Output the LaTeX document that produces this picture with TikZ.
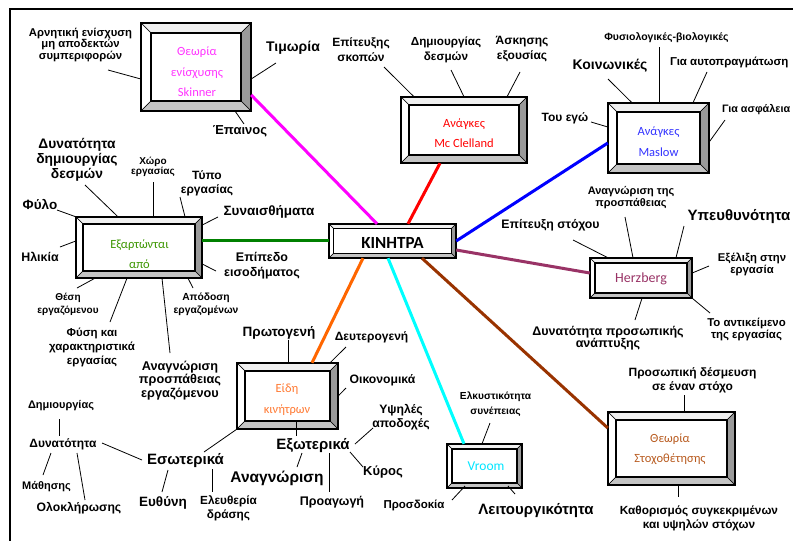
\documentclass[tikz,border=0pt]{standalone}
\usepackage{fontspec}
\setmainfont{Liberation Sans}
\newfontfamily\calfont{Carlito}
\usetikzlibrary{calc}
\definecolor{bevtop}{HTML}{F0F0F0}
\definecolor{bevright}{HTML}{9A9A9A}
\definecolor{bevbot}{HTML}{C4C4C4}
\definecolor{cmag}{HTML}{FF00FF}
\definecolor{tmag}{HTML}{FF33FF}
\definecolor{cred}{HTML}{FF0000}
\definecolor{cblue}{HTML}{0000FF}
\definecolor{tblue}{HTML}{3333FF}
\definecolor{cgreen}{HTML}{008000}
\definecolor{tgreen}{HTML}{3C9600}
\definecolor{corange}{HTML}{FF6600}
\definecolor{torange}{HTML}{FF7A33}
\definecolor{cpurple}{HTML}{993366}
\definecolor{ccyan}{HTML}{00FFFF}
\definecolor{tcyan}{HTML}{00E6FF}
\definecolor{cbrown}{HTML}{993300}
\definecolor{tbrown}{HTML}{B85A1E}
\newcommand\fs[2]{\fontsize{#1}{#2}\selectfont}
% name, x1, y1, x2, y2, bevel
\newcommand\bevbox[6]{%
  \fill[white] (#2,#3) rectangle (#4,#5);
  \filldraw[fill=bevtop, draw=black, line width=.6] (#2,#3) -- (#4,#3) -- ({#4-#6},{#3+#6}) -- ({#2+#6},{#3+#6}) -- cycle;
  \filldraw[fill=white, draw=black, line width=.6] (#2,#3) -- ({#2+#6},{#3+#6}) -- ({#2+#6},{#5-#6}) -- (#2,#5) -- cycle;
  \filldraw[fill=bevright, draw=black, line width=.6] (#4,#3) -- (#4,#5) -- ({#4-#6},{#5-#6}) -- ({#4-#6},{#3+#6}) -- cycle;
  \filldraw[fill=bevbot, draw=black, line width=.6] (#2,#5) -- (#4,#5) -- ({#4-#6},{#5-#6}) -- ({#2+#6},{#5-#6}) -- cycle;
  \draw[line width=1.3] ({#2+#6},{#3+#6}) rectangle ({#4-#6},{#5-#6});
  \draw[line width=1.5] (#2,#3) rectangle (#4,#5);
  \node[draw=none, inner sep=0, minimum width={#4-#2}, minimum height={#5-#3}] (#1) at ({(#2+#4)/2},{(#3+#5)/2}) {};
}
\tikzset{
  lb/.style={align=center, inner sep=0pt, font=\bfseries\fs{10.5}{12}},
  lk/.style={draw=black, line width=0.8},
  conn/.style={line width=3},
  boxtext/.style={align=center, inner sep=0pt, font=\calfont\fs{12.5}{20.5}}
}
\begin{document}
\begin{tikzpicture}[x=1pt,y=-1pt]
\useasboundingbox (0,0) rectangle (793,541);
\clip (0,0) rectangle (793,541);
\fill[white] (0,0) rectangle (793,541);
\draw[line width=2] (10,9) rectangle (900,700);

% ---------- boxes ----------
\bevbox{sk}{141}{23}{251}{111}{10}
\bevbox{mc}{401}{97}{527}{163}{8}
\bevbox{mas}{608}{103}{709}{173}{9}
\bevbox{kin}{329}{224}{456}{258}{4.5}
\bevbox{dep}{76}{217}{202}{278}{7}
\bevbox{eid}{237}{363}{338}{429}{8}
\bevbox{her}{590}{258}{692}{298}{5}
\bevbox{vr}{447}{444}{522}{488}{5}
\bevbox{sto}{608}{412}{735}{485}{8}

% ---------- colored connectors ----------
\draw[conn, cmag] (sk.east |- 0,95) -- (kin.north -| 377,0);
\draw[conn, cred] (mc.south -| 440,0) -- (kin.north -| 408,0);
\draw[conn, cblue] (mas.west |- 0,143) -- (kin.east |- 0,241);
\draw[conn, cpurple] (kin.east |- 0,250) -- (her.west |- 0,273);
\draw[conn, cgreen] (dep.east |- 0,240) -- (kin.west |- 0,240);
\draw[conn, corange] (kin.south -| 363,0) -- (eid.north -| 312,0);
\draw[conn, ccyan] (kin.south -| 388,0) -- (vr.north -| 464,0);
\draw[conn, cbrown] (kin.south -| 422,0) -- (sto.west |- 0,428);

% ---------- box texts ----------
\node[boxtext, text=tmag] (skt) at (197,72) {Θεωρία\\ενίσχυσης\\Skinner};
\node[boxtext, text=cred] (mct) at (464,133) {Ανάγκες\\Mc Clelland};
\node[boxtext, text=tblue] (mast) at (658.5,141.5) {Ανάγκες\\Maslow};
\node[inner sep=0, font=\calfont\bfseries\fs{17}{20}] (kint) at (392.5,243) {ΚΙΝΗΤΡΑ};
\node[boxtext, text=tgreen] (dept) at (139.5,254) {Εξαρτώνται\\από};
\node[boxtext, text=torange] (eidt) at (287,399.5) {Είδη\\κινήτρων};
\node[boxtext, text=cpurple, font=\calfont\fs{14}{20}] (hert) at (641,279) {Herzberg};
\node[boxtext, text=tcyan, font=\calfont\fs{13.5}{20}] (vrt) at (486,466) {Vroom};
\node[boxtext, text=tbrown] (stot) at (670,449) {Θεωρία\\Στοχοθέτησης};

% ---------- Skinner labels ----------
\node[lb, font=\bfseries\fs{11.3}{11.6}] (neg) at (80.5,45) {Αρνητική ενίσχυση\\μη αποδεκτών\\συμπεριφορών};
\node[lb, font=\bfseries\fs{14}{16}] (tim) at (293,48) {Τιμωρία};
\node[lb, font=\bfseries\fs{13}{14}] (epa) at (240,131) {Έπαινος};
\draw[lk] (108,70) -- (sk.west |- 0,79);
\draw[lk] (sk.east |- 0,79) -- (276,63);
\draw[lk] (235,111) -- (244,124);

% ---------- Mc Clelland labels ----------
\node[lb, font=\bfseries\fs{12}{15}] (eps) at (361,49.5) {Επίτευξης\\σκοπών};
\node[lb, font=\bfseries\fs{11.7}{15}] (dhd) at (446,49.5) {Δημιουργίας\\δεσμών};
\node[lb, font=\bfseries\fs{12}{15}] (ask) at (522,49.5) {Άσκησης\\εξουσίας};
\draw[lk] (384,67) -- (mc.north -| 414,0);
\draw[lk] (451,70) -- (mc.north -| 464,0);
\draw[lk] (520,72) -- (mc.north -| 507,0);

% ---------- Maslow labels ----------
\node[lb, font=\bfseries\fs{10.5}{12}] (fys) at (666.5,38) {Φυσιολογικές-βιολογικές};
\node[lb, font=\bfseries\fs{14}{16}] (koi) at (610,66) {Κοινωνικές};
\node[lb, font=\bfseries\fs{11.5}{14}, anchor=west] (aut) at (670,62) {Για αυτοπραγμάτωση};
\node[lb, font=\bfseries\fs{10.8}{14}, anchor=west] (asf) at (722,110) {Για ασφάλεια};
\node[lb, font=\bfseries\fs{12}{14}] (ego) at (565,118) {Του εγώ};
\draw[lk] (659,47) -- (mas.north -| 659,0);
\draw[lk] (608,79) -- (mas.north -| 632,0);
\draw[lk] (707,72) -- (mas.north -| 693,0);
\draw[lk] (725,120) -- (mas.east |- 0,142);
\draw[lk] (591,122) -- (mas.west |- 0,127);

% ---------- Εξαρτώνται labels ----------
\node[lb, font=\bfseries\fs{13.8}{15}] (ddd) at (77,160) {Δυνατότητα\\δημιουργίας\\δεσμών};
\node[lb, font=\bfseries\fs{10}{10.5}] (xor) at (153,167) {Χώρο\\εργασίας};
\node[lb, font=\bfseries\fs{12}{13.5}] (typ) at (207,183.5) {Τύπο\\εργασίας};
\node[lb, font=\bfseries\fs{13.5}{14}] (fyl) at (40,204) {Φύλο};
\node[lb, font=\bfseries\fs{12.4}{13}] (hli) at (40,257) {Ηλικία};
\node[lb, font=\bfseries\fs{13.5}{14}] (syn) at (269,212) {Συναισθήματα};
\node[lb, font=\bfseries\fs{12.5}{14.5}] (epi) at (262,265.5) {Επίπεδο\\εισοδήματος};
\node[lb, font=\bfseries\fs{10}{12.5}] (the) at (68,304.5) {Θέση\\εργαζόμενου};
\node[lb, font=\bfseries\fs{11.5}{14}] (fyx) at (92,347) {Φύση και\\χαρακτηριστικά\\εργασίας};
\node[lb, font=\bfseries\fs{12.7}{13.8}] (ana) at (180,380.5) {Αναγνώριση\\προσπάθειας\\εργαζόμενου};
\node[lb, font=\bfseries\fs{10.3}{12.5}] (apo) at (206,304.5) {Απόδοση\\εργαζομένων};
\draw[lk] (85,185) -- (dep.north -| 118,0);
\draw[lk] (153,182) -- (dep.north -| 153,0);
\draw[lk] (180,197) -- (dep.north -| 185,0);
\draw[lk] (57,210) -- (dep.north west);
\draw[lk] (60,247) -- (dep.west |- 0,241);
\draw[lk] (218,217) -- (dep.east |- 0,225);
\draw[lk] (216,271) -- (dep.east |- 0,264);
\draw[lk] (77,288) -- (dep.south -| 95,0);
\draw[lk] (110,322) -- (dep.south -| 127,0);
\draw[lk] (170,353) -- (dep.south -| 162,0);
\draw[lk] (193,288) -- (dep.south -| 188,0);

% ---------- Είδη κινήτρων labels ----------
\node[lb, font=\bfseries\fs{13.5}{15}] (prw) at (279,333) {Πρωτογενή};
\node[lb, font=\bfseries\fs{12}{13}] (deu) at (371.5,337) {Δευτερογενή};
\node[lb, font=\bfseries\fs{12.2}{13}] (oik) at (382.5,380) {Οικονομικά};
\node[lb, font=\bfseries\fs{15}{17}] (exw) at (313,446) {Εξωτερικά};
\node[lb, font=\bfseries\fs{12.2}{14}] (yps) at (401,417) {Υψηλές\\αποδοχές};
\node[lb, font=\bfseries\fs{13}{14}] (kyr) at (383,472) {Κύρος};
\node[lb, font=\bfseries\fs{15.5}{17}] (ana2) at (277,478) {Αναγνώριση};
\node[lb, font=\bfseries\fs{12.5}{13}] (pro) at (332,502) {Προαγωγή};
\node[lb, font=\bfseries\fs{15}{17}] (esw) at (185.5,461) {Εσωτερικά};
\node[lb, font=\bfseries\fs{12}{13}] (dyn) at (63,444) {Δυνατότητα};
\node[lb, font=\bfseries\fs{11}{12}] (dhm) at (61,406) {Δημιουργίας};
\node[lb, font=\bfseries\fs{11}{12}] (mat) at (46.5,487) {Μάθησης};
\node[lb, font=\bfseries\fs{12.2}{13}] (olo) at (79,508) {Ολοκλήρωσης};
\node[lb, font=\bfseries\fs{13.5}{14}] (eyt) at (163,503) {Ευθύνη};
\node[lb, font=\bfseries\fs{11.8}{14}] (ele) at (228.5,508) {Ελευθερία\\δράσης};
\draw[lk] (prw.south -| 288,0) -- (eid.north -| 288,0);
\draw[lk] (346,347) -- (eid.north -| 330,0);
\draw[lk] (346,388) -- (eid.east |- 0,396);
\draw[lk] (296,420) -- (296,436);
\draw[lk] (373,428) -- (355,444);
\draw[lk] (363,467) -- (350,452);
\draw[lk] (297,467) -- (302,453);
\draw[lk] (329,453) -- (329,492);
\draw[lk] (204,452) -- (eid.south west);
\draw[lk] (102,443) -- (142,460);
\draw[lk] (59,419) -- (59,436);
\draw[lk] (51,453) -- (43,475);
\draw[lk] (77,453) -- (85,500);
\draw[lk] (168,470) -- (162,492);
\draw[lk] (212,469) -- (212,492);

% ---------- Vroom labels ----------
\node[lb, font=\bfseries\fs{10.2}{15}] (elk) at (495.5,404.5) {Ελκυστικότητα\\συνέπειας};
\node[lb, font=\bfseries\fs{11.5}{13}] (pros) at (414,505) {Προσδοκία};
\node[lb, font=\bfseries\fs{15}{17}] (lei) at (536,511) {Λειτουργικότητα};
\draw[lk] (490,423) -- (vr.north -| 482,0);
\draw[lk] (465,486) -- (452,500);
\draw[lk] (508,486) -- (515,494);

% ---------- Στοχοθέτηση labels ----------
\node[lb, font=\bfseries\fs{12}{14}] (pds) at (692.5,380) {Προσωπική δέσμευση\\σε έναν στόχο};
\node[lb, font=\bfseries\fs{11.8}{13.5}] (kas) at (699,518.5) {Καθορισμός συγκεκριμένων\\και υψηλών στόχων};
\draw[lk] (684,395) -- (sto.north -| 684,0);
\draw[lk] (sto.south -| 678,0) -- (678,497);

% ---------- Herzberg labels ----------
\node[lb, font=\bfseries\fs{11}{11.5}] (anp) at (631,197.5) {Αναγνώριση της\\προσπάθειας};
\node[lb, font=\bfseries\fs{15}{16}] (ype) at (739,217) {Υπευθυνότητα};
\node[lb, font=\bfseries\fs{12.3}{13}] (ept) at (550.5,225) {Επίτευξη στόχου};
\node[lb, font=\bfseries\fs{11.3}{12}] (exe) at (752,264) {Εξέλιξη στην\\εργασία};
\node[lb, font=\bfseries\fs{11.4}{12}] (ant) at (746.5,329) {Το αντικείμενο\\της εργασίας};
\node[lb, font=\bfseries\fs{12.5}{12.5}] (dpa) at (608,338) {Δυνατότητα προσωπικής\\ανάπτυξης};
\draw[lk] (625,217) -- (her.north -| 633,0);
\draw[lk] (684,226) -- (her.north -| 676,0);
\draw[lk] (573,240) -- (her.north -| 608,0);
\draw[lk] (709,266) -- (her.east |- 0,273);
\draw[lk] (710,313) -- (her.south east);
\draw[lk] (635,320) -- (her.south -| 642,0);
\end{tikzpicture}
\end{document}
